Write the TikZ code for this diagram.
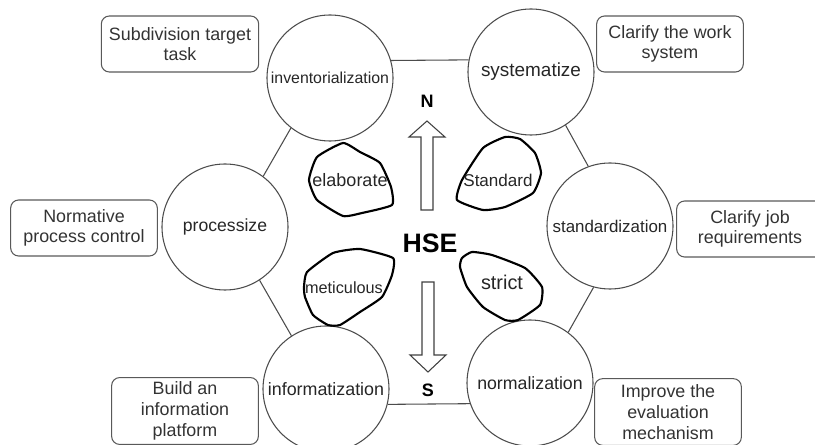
\documentclass[tikz,border=0pt]{standalone}
\usepackage{fontspec}
\setmainfont{Liberation Sans}

\begin{document}
\begin{tikzpicture}[x=0.75pt, y=-0.75pt,
    stage/.style={draw=black!70, line width=0.8pt, circle, minimum size=94.5pt, inner sep=0pt, text=black!85},
    tasknote/.style={draw=black!65, line width=0.8pt, rounded corners=6pt, align=center,
      minimum width=110pt, minimum height=42pt, font=\fontsize{13.4}{15.5}\selectfont, text=black!80},
    link/.style={draw=black!70, line width=0.8pt},
    blob/.style={draw=black, line width=1.6pt, line join=round},
    dir/.style={draw=black!75, line width=0.8pt, fill=white}]
      \useasboundingbox (0,0) rectangle (815,445);

      % the six stages
      \node[stage, font=\fontsize{11.9}{14}\selectfont] (inv) at (330,78)  {inventorialization};
      \node[stage, font=\fontsize{14.2}{16}\selectfont] (sys) at (531,72)  {systematize};
      \node[stage, font=\fontsize{12.7}{15}\selectfont] (std) at (610,226) {standardization};
      \node[stage, font=\fontsize{13.3}{15}\selectfont] (nor) at (530,383) {normalization};
      \node[stage, font=\fontsize{13.4}{15}\selectfont] (inf) at (326,389) {informatization};
      \node[stage, font=\fontsize{13.2}{15}\selectfont] (pro) at (225,227) {processize};

      \draw[link] (inv.16)  -- (sys.169);
      \draw[link] (sys.303) -- (std.110);
      \draw[link] (std.255) -- (nor.53);
      \draw[link] (nor.199) -- (inf.346);
      \draw[link] (inf.123) -- (pro.303);
      \draw[link] (pro.53)  -- (inv.232);

      % notes beside the stages
      \node[tasknote, minimum width=118pt] (tinv) at (180,44)  {Subdivision target\\task};
      \node[tasknote] (tsys) at (670,44)  {Clarify the work\\system};
      \node[tasknote] (tstd) at (750,229) {Clarify job\\requirements};
      \node[tasknote, minimum height=50pt] (tnor) at (668,412) {Improve the\\evaluation\\mechanism};
      \node[tasknote, minimum height=50pt] (tinf) at (185,411) {Build an\\information\\platform};
      \node[tasknote] (tpro) at (84,228)  {Normative\\process control};

      % qualities
      \draw[blob] plot[smooth cycle, tension=0.3] coordinates {(343,143) (360,152) (380,163) (391,187) (392,205)
        (362,213) (343,216) (317,200) (309,180) (317,157)};
      \node[font=\fontsize{13.5}{15}\selectfont, text=black!85] (elab) at (350,180) {elaborate};

      \draw[blob] plot[smooth cycle, tension=0.3] coordinates {(505,137) (520,139) (535,153) (541,173) (533,193)
        (505,207) (483,210) (457,200) (462,180) (483,148)};
      \node[font=\fontsize{12.8}{15}\selectfont, text=black!85] (stan) at (498,180) {Standard};

      \draw[blob] plot[smooth cycle, tension=0.3] coordinates {(307,272) (333,253) (360,249) (393,258) (392,275)
        (382,297) (360,312) (340,325) (328,325) (313,315) (305,297) (304,287)};
      \node[font=\fontsize{12.2}{15}\selectfont, text=black!85] (meti) at (344,288) {meticulous};

      \draw[blob] plot[smooth cycle, tension=0.3] coordinates {(462,258) (472,252) (492,255) (525,268) (542,287)
        (540,305) (518,320) (505,320) (483,307) (467,287) (460,267)};
      \node[font=\fontsize{14.9}{16}\selectfont, text=black!85] (stri) at (502,282) {strict};

      % centre
      \node[font=\fontsize{20}{22}\selectfont\bfseries] (hse) at (430,243) {HSE};
      \node[font=\fontsize{13.5}{15}\selectfont\bfseries] (north) at (427,101) {N};
      \node[font=\fontsize{13.5}{15}\selectfont\bfseries] (south) at (428,390) {S};

      \draw[dir] (421,210) -- (421,137) -- (409,137) -- (427,121) -- (445,137) -- (433,137) -- (433,210) -- cycle;
      \draw[dir] (422,282) -- (422,355) -- (410,355) -- (428,372) -- (446,355) -- (434,355) -- (434,282) -- cycle;

\end{tikzpicture}
\end{document}
